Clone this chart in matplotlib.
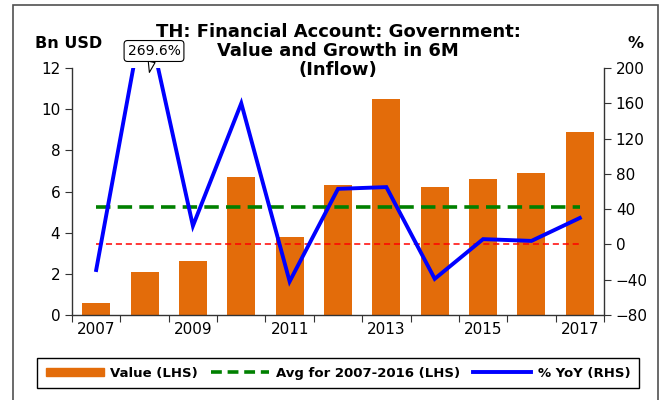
import numpy as np
import matplotlib
matplotlib.use("Agg")
import matplotlib.pyplot as plt
from matplotlib.patches import Rectangle, Patch
from matplotlib.lines import Line2D

plt.rcParams['font.family'] = ['DejaVu Sans']

# data
years = [2007, 2008, 2009, 2010, 2011, 2012, 2013, 2014, 2015, 2016, 2017]
value = [0.6, 2.1, 2.6, 6.7, 3.8, 6.3, 10.5, 6.2, 6.6, 6.9, 8.9]
yoy = [-29, 269.6, 21, 160, -42, 63, 65, -39, 6, 4, 30]
avg_0716 = np.mean(value[:10])
tick_labels = ["2007", "", "2009", "", "2011", "", "2013", "", "2015", "", "2017"]
title_lines = ["TH: Financial Account: Government:", "Value and Growth in 6M", "(Inflow)"]

orange = "#E36C0A"
x = np.arange(len(years))

fig = plt.figure(figsize=(6.69, 4.0), dpi=100)
ax1 = fig.add_axes([72/669, 1 - 315/400, (604 - 72)/669, (315 - 68)/400])
ax2 = ax1.twinx()

ax1.bar(x, value, width=0.58, color=orange, zorder=2)
ax1.plot([x[0], x[-1]], [avg_0716, avg_0716], color="#008000", lw=2.6,
         dashes=(4, 2.0), zorder=3)
ax2.plot([x[0], x[-1]], [0, 0], color="#FF0000", lw=1.1, dashes=(4, 2.5), zorder=3)
ax2.plot(x, yoy, color="#0000FF", lw=2.8, zorder=4, solid_joinstyle="miter")

ax1.set_xlim(-0.5, len(years) - 0.5)
ax1.set_ylim(0, 12)
ax1.set_yticks(range(0, 13, 2))
ax2.set_ylim(-80, 200)
ax2.set_yticks(range(-80, 201, 40))

# ticks between categories, labels under bars
ax1.set_xticks(np.arange(-0.5, len(years)), minor=False)
ax1.set_xticklabels([])
ax1.set_xticks(x, minor=True)
ax1.set_xticklabels(tick_labels, minor=True)
ax1.tick_params(axis="x", which="major", length=5, direction="out", color="#333333")
ax1.tick_params(axis="x", which="minor", length=0, labelsize=11, pad=5)
ax1.tick_params(axis="y", length=5, direction="out", labelsize=11, color="#333333")
ax2.tick_params(axis="y", length=5, direction="out", labelsize=11, color="#333333")

for ax in (ax1, ax2):
    ax.spines["top"].set_visible(False)
    for s in ("left", "right", "bottom"):
        ax.spines[s].set_color("#333333")
        ax.spines[s].set_linewidth(1.0)
ax1.spines["right"].set_visible(False)
ax2.spines["left"].set_visible(False)
ax2.spines["bottom"].set_visible(False)

# title, one text per line
for line, base in zip(title_lines, [37, 56, 75]):
    fig.text(338/669, 1 - base/400, line, ha="center", va="baseline",
             fontsize=13, fontweight="bold")
fig.text(35/669, 1 - 43/400, "Bn USD", ha="left", va="center", fontsize=11.5, fontweight="bold")
fig.text(636/669, 1 - 43/400, "%", ha="center", va="center", fontsize=11.5, fontweight="bold")

ax2.annotate("269.6%", xy=(1.1, 195), xycoords="data",
             xytext=(154, 400 - 51), textcoords="figure pixels",
             ha="center", va="center", fontsize=10, annotation_clip=False,
             bbox=dict(boxstyle="round,pad=0.25", fc="white", ec="black", lw=0.8),
             arrowprops=dict(arrowstyle="wedge,tail_width=0.5", fc="white", ec="black",
                             lw=0.8, shrinkA=0, shrinkB=0),
             zorder=10)

handles = [Patch(color=orange),
           Line2D([], [], color="#008000", lw=2.6, dashes=(3, 1.6)),
           Line2D([], [], color="#0000FF", lw=2.8)]
labels = ["Value (LHS)", "Avg for 2007-2016 (LHS)", "% YoY (RHS)"]
leg = fig.legend(handles, labels, loc="center", ncol=3,
                 bbox_to_anchor=(338/669, 1 - 373/400),
                 frameon=True, fancybox=False, edgecolor="black", framealpha=1,
                 prop=dict(weight="bold", size=9.5), handlelength=4.4, handleheight=0.5,
                 handletextpad=0.5, columnspacing=1.0, borderpad=0.65)
leg.get_frame().set_linewidth(1.0)

fig.patches.append(Rectangle((13/669, -0.01), (658 - 13)/669, 395/400 + 0.01,
                             transform=fig.transFigure, fill=False, ec="#505050", lw=1.2))

fig.savefig("out.png", dpi=100)
